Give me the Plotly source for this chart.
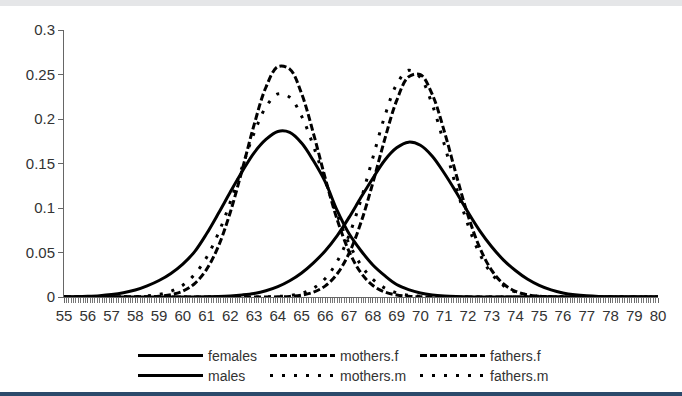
import plotly.graph_objects as go

# x grid (inches), step 0.5
x_vals = [55 + 0.5 * i for i in range(51)]

# density values, one per x value (55 .. 80)
females = [0.0002, 0.0004, 0.0008, 0.0015, 0.0028, 0.0048, 0.0078, 0.0125, 0.0185, 0.0265,
           0.037, 0.051, 0.071, 0.094, 0.118, 0.141, 0.162, 0.177, 0.186, 0.185,
           0.173, 0.153, 0.129, 0.097, 0.071, 0.052, 0.036, 0.024, 0.014, 0.0083,
           0.0045, 0.0023, 0.0011, 0.0005, 0.0002, 0.0001, 0, 0, 0, 0,
           0, 0, 0, 0, 0, 0, 0, 0, 0, 0, 0]
males = [0, 0, 0, 0, 0, 0, 0, 0, 0, 0,
         0, 0.0001, 0.0003, 0.0006, 0.0012, 0.0023, 0.0040, 0.0070, 0.0116, 0.0182,
         0.027, 0.0384, 0.052, 0.069, 0.0895, 0.112, 0.1335, 0.1537, 0.1676, 0.174,
         0.1705, 0.1582, 0.1393, 0.118, 0.0955, 0.0744, 0.0565, 0.0415, 0.0298, 0.0202,
         0.0131, 0.0080, 0.0046, 0.0026, 0.0014, 0.0007, 0.0003, 0.0001, 0, 0, 0]
mothers_f = [0, 0, 0, 0, 0, 0, 0.0001, 0.0003, 0.0009, 0.0026,
             0.0066, 0.0151, 0.0310, 0.0572, 0.0953, 0.1430, 0.1934, 0.2357, 0.2588, 0.2561,
             0.2285, 0.1836, 0.1330, 0.0868, 0.0511, 0.0271, 0.0129, 0.0056, 0.0022, 0.0008,
             0.0002, 0.0001, 0, 0, 0, 0, 0, 0, 0, 0,
             0, 0, 0, 0, 0, 0, 0, 0, 0, 0, 0]
mothers_m = [0, 0, 0, 0, 0, 0.0001, 0.0004, 0.0012, 0.0029, 0.0064,
             0.0133, 0.0254, 0.0445, 0.0718, 0.1067, 0.1461, 0.1841, 0.2136, 0.2282, 0.2244,
             0.2032, 0.1695, 0.1301, 0.0920, 0.0599, 0.0359, 0.0198, 0.0101, 0.0047, 0.0020,
             0.0008, 0.0003, 0.0001, 0, 0, 0, 0, 0, 0, 0,
             0, 0, 0, 0, 0, 0, 0, 0, 0, 0, 0]
fathers_f = [0, 0, 0, 0, 0, 0, 0, 0, 0, 0,
             0, 0, 0, 0, 0, 0, 0, 0.0001, 0.0002, 0.0007,
             0.0021, 0.0054, 0.0125, 0.0261, 0.0493, 0.0838, 0.1284, 0.1773, 0.2206, 0.2473,
             0.2499, 0.2276, 0.1867, 0.1381, 0.0920, 0.0553, 0.0299, 0.0146, 0.0064, 0.0025,
             0.0009, 0.0003, 0.0001, 0, 0, 0, 0, 0, 0, 0, 0]
fathers_m = [0, 0, 0, 0, 0, 0, 0, 0, 0, 0,
             0, 0, 0, 0, 0, 0, 0.0001, 0.0002, 0.0006, 0.0017,
             0.0042, 0.0099, 0.0209, 0.0400, 0.0695, 0.1095, 0.1566, 0.2031, 0.2388, 0.2547,
             0.2464, 0.2161, 0.1720, 0.1241, 0.0812, 0.0482, 0.0260, 0.0127, 0.0056, 0.0023,
             0.0008, 0.0003, 0.0001, 0, 0, 0, 0, 0, 0, 0, 0]

x_ticks = list(range(55, 81))
y_ticks = [0, 0.05, 0.1, 0.15, 0.2, 0.25, 0.3]
y_tick_text = ["0", "0.05", "0.1", "0.15", "0.2", "0.25", "0.3"]

FONT = "Liberation Sans, Arial, sans-serif"
SOLID = dict(color="#000000", width=3)
DASH = dict(color="#000000", width=3, dash="7px,3px")
DOT = dict(color="#000000", width=3, dash="3px,9px")

# (name, values, line style, legend id, legend left px, legend top px)
series = [
    ("females", females, SOLID, "legend", 133, 340),
    ("males", males, SOLID, "legend2", 133, 360),
    ("mothers.f", mothers_f, DASH, "legend3", 265, 340),
    ("mothers.m", mothers_m, DOT, "legend4", 265, 360),
    ("fathers.f", fathers_f, DASH, "legend5", 415, 340),
    ("fathers.m", fathers_m, DOT, "legend6", 415, 360),
]

leg_common = dict(orientation="v", xanchor="left", yanchor="top",
                  xref="container", yref="container",
                  font=dict(family=FONT, size=14, color="#333333"),
                  itemwidth=65, tracegroupgap=0, bgcolor="rgba(0,0,0,0)")

fig = go.Figure()
legends = {}
for name, ys, ln, lg, lx, ly in series:
    fig.add_trace(go.Scatter(x=x_vals, y=ys, name=name, mode="lines",
                             line=dict(shape="spline", smoothing=1, **ln),
                             legend=lg))
    legends[lg] = dict(x=lx / 682, y=1 - ly / 396, **leg_common)

fig.update_layout(
    width=682, height=396,
    margin=dict(l=64, r=24, t=30, b=99, autoexpand=False),
    paper_bgcolor="#ffffff", plot_bgcolor="#ffffff",
    font=dict(family=FONT, size=15, color="#333333"),
    showlegend=True,
    xaxis=dict(range=[55, 80], tickmode="array", tickvals=x_ticks,
               ticktext=[str(v) for v in x_ticks],
               showgrid=False, zeroline=False, showline=True, linecolor="#666666",
               linewidth=1, ticks="outside", ticklen=5, tickcolor="#666666",
               minor=dict(dtick=0.1, ticks="outside", ticklen=5, tickcolor="#777777", showgrid=False),
               tickfont=dict(family=FONT, size=15, color="#333333")),
    yaxis=dict(range=[0, 0.3], tickmode="array", tickvals=y_ticks, ticktext=y_tick_text,
               showgrid=False, zeroline=False, showline=True, linecolor="#666666",
               linewidth=1, ticks="outside", ticklen=5, tickcolor="#666666",
               tickfont=dict(family=FONT, size=15, color="#333333")),
    shapes=[
        dict(type="rect", xref="paper", yref="paper", x0=-0.11, x1=1.05,
             y0=1.0899, y1=1.12, fillcolor="#e5e6e8", line=dict(width=0), layer="below"),
        dict(type="rect", xref="paper", yref="paper", x0=-0.11, x1=1.05,
             y0=-0.375, y1=-0.3558, fillcolor="#2c4a6b", line=dict(width=0), layer="below"),
    ],
    **legends,
)

fig.write_html("out.html")
